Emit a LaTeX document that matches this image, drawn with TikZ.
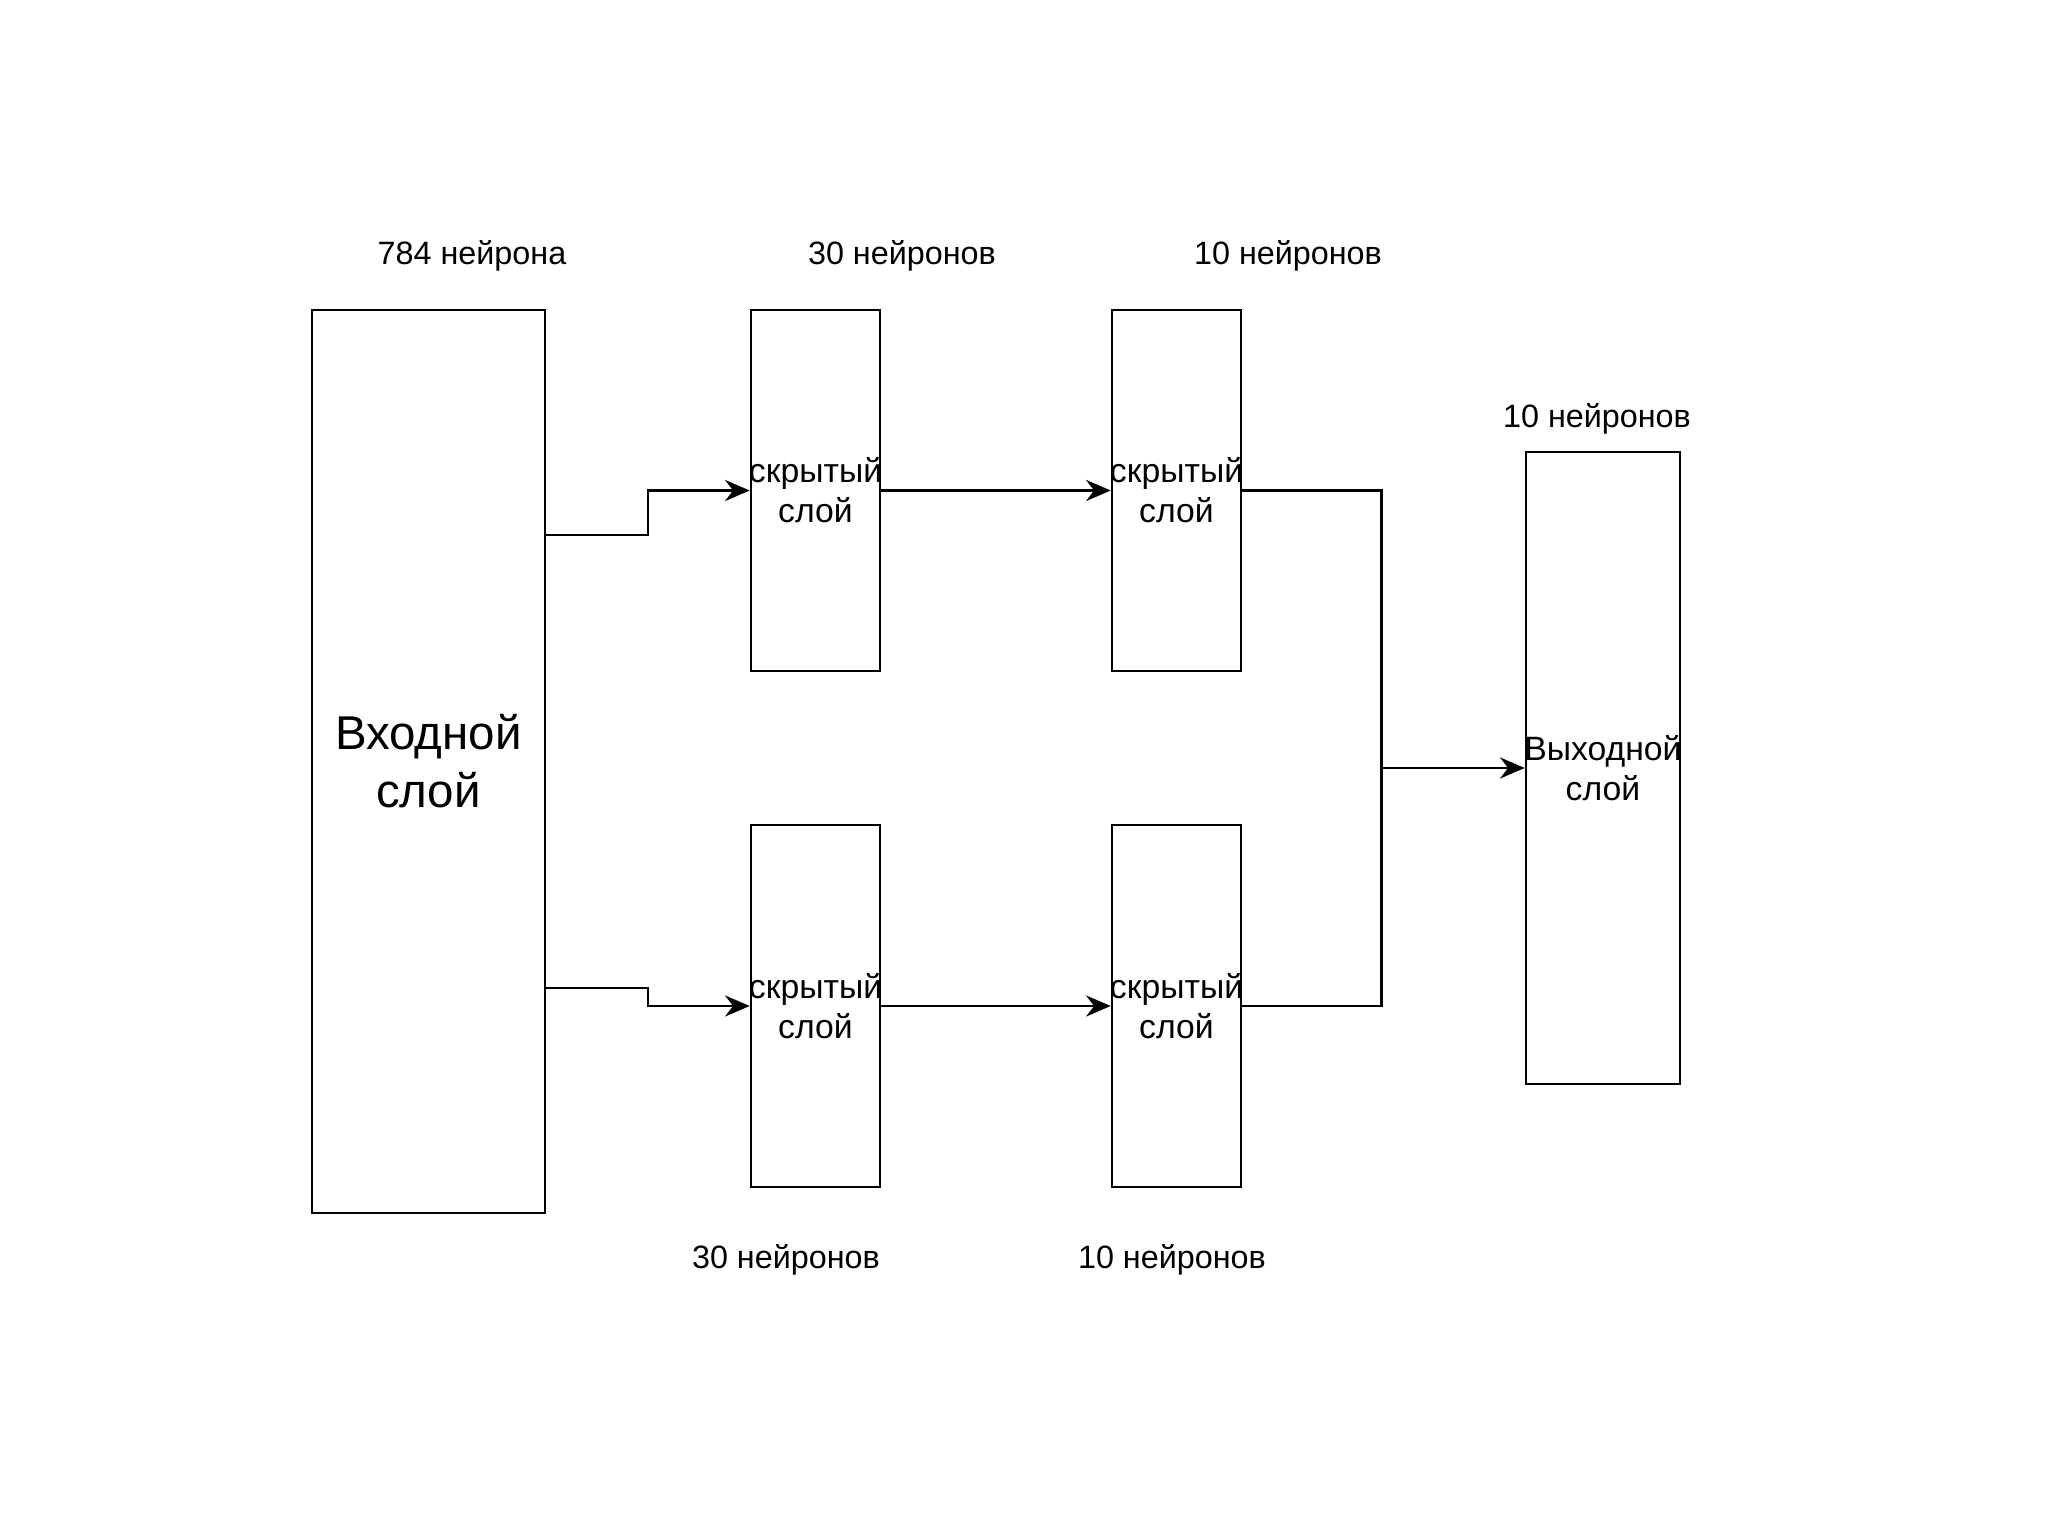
\documentclass[tikz,border=0pt]{standalone}
\usepackage{fontspec}
\setmainfont{Liberation Sans}
\usetikzlibrary{arrows.meta,calc}

\begin{document}
\begin{tikzpicture}[
    layertext/.style={align=center, inner sep=0pt, font=\fontsize{9.6}{11.3}\selectfont},
    layer/.style={draw, line width=0.75pt, inner sep=0pt,
        label={[layertext]center:#1}},
    inlayer/.style={draw, line width=0.75pt, inner sep=0pt, align=center,
        font=\fontsize{13.5}{16.5}\selectfont},
    count/.style={font=\fontsize{9.2}{11}\selectfont},
    link/.style={line width=0.75pt},
    arrow/.style={link, -{Stealth[length=7pt,width=6pt]}}
]
    \useasboundingbox (0,0) rectangle (20.48,-15.36);

    % Input layer
    \node[inlayer, minimum width=2.33cm, minimum height=9.03cm] (input) at (4.285,-7.615) {Входной\\слой};
    \node[count] (n_in) at (4.72,-2.56) {784 нейрона};

    % Upper branch
    \node[layer=скрытый\\слой, minimum width=1.29cm, minimum height=3.61cm] (h1) at (8.155,-4.905) {};
    \node[layer=скрытый\\слой, minimum width=1.29cm, minimum height=3.61cm] (h2) at (11.765,-4.905) {};
    \node[count] (n_h1) at (9.02,-2.56) {30 нейронов};
    \node[count] (n_h2) at (12.88,-2.56) {10 нейронов};

    % Lower branch
    \node[layer=скрытый\\слой, minimum width=1.29cm, minimum height=3.62cm] (h3) at (8.155,-10.06) {};
    \node[layer=скрытый\\слой, minimum width=1.29cm, minimum height=3.62cm] (h4) at (11.765,-10.06) {};
    \node[count] (n_h3) at (7.86,-12.60) {30 нейронов};
    \node[count] (n_h4) at (11.72,-12.60) {10 нейронов};

    % Output layer
    \node[layer=Выходной\\слой, minimum width=1.54cm, minimum height=6.32cm] (output) at (16.03,-7.68) {};
    \node[count] (n_out) at (15.97,-4.19) {10 нейронов};

    % Connections
    \coordinate (a1) at ($(input.north east)!.25!(input.south east)$);
    \coordinate (a2) at ($(input.north east)!.75!(input.south east)$);
    \draw[arrow] (a1) -| ($(a1)!.5!(h1.west)$) |- (h1.west);
    \draw[arrow] (a2) -| ($(a2)!.5!(h3.west)$) |- (h3.west);
    \draw[arrow] (h1) -- (h2);
    \draw[arrow] (h3) -- (h4);

    \path (output.west) ++(-1.43,0) coordinate (m);
    \draw[link] (h2.east) -| (m) |- (h4.east);
    \draw[arrow] (m) -- (output.west);
\end{tikzpicture}
\end{document}
